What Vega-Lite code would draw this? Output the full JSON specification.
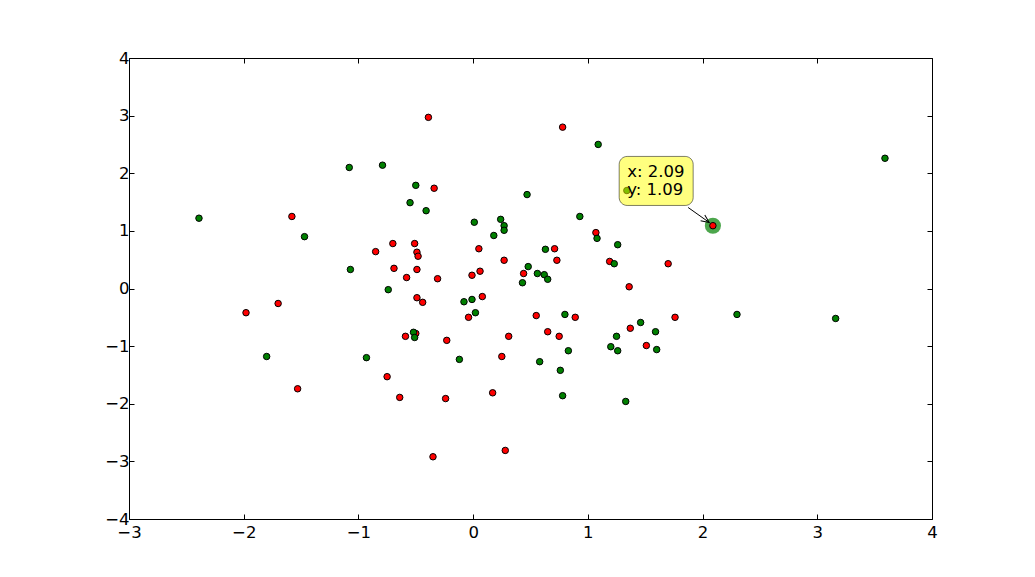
{
  "$schema": "https://vega.github.io/schema/vega-lite/v6.json",
  "width": 803,
  "height": 461,
  "autosize": {"type": "none"},
  "padding": {"left": 129, "top": 58, "right": 103, "bottom": 58},
  "background": "white",
  "config": {
    "view": {"stroke": "black", "strokeWidth": 1},
    "axis": {
      "domain": false,
      "grid": false,
      "tickColor": "black",
      "tickSize": -5,
      "tickWidth": 1,
      "labelFlush": false,
      "labelOverlap": false,
      "labelFont": "DejaVu Sans",
      "labelFontSize": 16.5,
      "labelColor": "black"
    }
  },
  "datasets": {
    "points": [
      {"x": -1.98, "y": -0.42, "c": "red"},
      {"x": -1.70, "y": -0.26, "c": "red"},
      {"x": -1.58, "y": 1.25, "c": "red"},
      {"x": -1.53, "y": -1.74, "c": "red"},
      {"x": -0.39, "y": 2.97, "c": "red"},
      {"x": -0.34, "y": 1.74, "c": "red"},
      {"x": -0.85, "y": 0.64, "c": "red"},
      {"x": -0.70, "y": 0.78, "c": "red"},
      {"x": -0.51, "y": 0.78, "c": "red"},
      {"x": -0.49, "y": 0.63, "c": "red"},
      {"x": -0.48, "y": 0.56, "c": "red"},
      {"x": -0.69, "y": 0.35, "c": "red"},
      {"x": -0.49, "y": 0.33, "c": "red"},
      {"x": -0.58, "y": 0.19, "c": "red"},
      {"x": -0.31, "y": 0.17, "c": "red"},
      {"x": 0.05, "y": 0.69, "c": "red"},
      {"x": 0.06, "y": 0.30, "c": "red"},
      {"x": -0.01, "y": 0.23, "c": "red"},
      {"x": 0.27, "y": 0.49, "c": "red"},
      {"x": -0.49, "y": -0.16, "c": "red"},
      {"x": -0.44, "y": -0.24, "c": "red"},
      {"x": 0.08, "y": -0.14, "c": "red"},
      {"x": -0.04, "y": -0.50, "c": "red"},
      {"x": -0.59, "y": -0.83, "c": "red"},
      {"x": -0.50, "y": -0.78, "c": "red"},
      {"x": -0.23, "y": -0.90, "c": "red"},
      {"x": 0.31, "y": -0.83, "c": "red"},
      {"x": -0.75, "y": -1.53, "c": "red"},
      {"x": -0.64, "y": -1.89, "c": "red"},
      {"x": -0.24, "y": -1.91, "c": "red"},
      {"x": 0.25, "y": -1.18, "c": "red"},
      {"x": 0.17, "y": -1.81, "c": "red"},
      {"x": -0.35, "y": -2.92, "c": "red"},
      {"x": 0.28, "y": -2.81, "c": "red"},
      {"x": 0.78, "y": 2.80, "c": "red"},
      {"x": 0.71, "y": 0.69, "c": "red"},
      {"x": 0.73, "y": 0.49, "c": "red"},
      {"x": 1.07, "y": 0.97, "c": "red"},
      {"x": 1.19, "y": 0.47, "c": "red"},
      {"x": 1.70, "y": 0.43, "c": "red"},
      {"x": 1.36, "y": 0.03, "c": "red"},
      {"x": 0.44, "y": 0.26, "c": "red"},
      {"x": 0.55, "y": -0.47, "c": "red"},
      {"x": 0.65, "y": -0.75, "c": "red"},
      {"x": 0.75, "y": -0.83, "c": "red"},
      {"x": 0.89, "y": -0.50, "c": "red"},
      {"x": 1.37, "y": -0.69, "c": "red"},
      {"x": 1.51, "y": -0.99, "c": "red"},
      {"x": 1.76, "y": -0.50, "c": "red"},
      {"x": 2.09, "y": 1.09, "c": "red"},
      {"x": -2.39, "y": 1.22, "c": "green"},
      {"x": -1.08, "y": 2.10, "c": "green"},
      {"x": -0.79, "y": 2.14, "c": "green"},
      {"x": -1.47, "y": 0.90, "c": "green"},
      {"x": -1.07, "y": 0.33, "c": "green"},
      {"x": -0.74, "y": -0.02, "c": "green"},
      {"x": -1.80, "y": -1.18, "c": "green"},
      {"x": -0.93, "y": -1.20, "c": "green"},
      {"x": -0.50, "y": 1.79, "c": "green"},
      {"x": -0.55, "y": 1.49, "c": "green"},
      {"x": -0.41, "y": 1.35, "c": "green"},
      {"x": 0.01, "y": 1.15, "c": "green"},
      {"x": 0.24, "y": 1.20, "c": "green"},
      {"x": 0.27, "y": 1.09, "c": "green"},
      {"x": 0.27, "y": 1.01, "c": "green"},
      {"x": 0.18, "y": 0.92, "c": "green"},
      {"x": 0.47, "y": 1.63, "c": "green"},
      {"x": 1.09, "y": 2.50, "c": "green"},
      {"x": 0.93, "y": 1.25, "c": "green"},
      {"x": 1.08, "y": 0.87, "c": "green"},
      {"x": 1.26, "y": 0.76, "c": "green"},
      {"x": 1.23, "y": 0.43, "c": "green"},
      {"x": 0.48, "y": 0.38, "c": "green"},
      {"x": 0.56, "y": 0.26, "c": "green"},
      {"x": 0.62, "y": 0.24, "c": "green"},
      {"x": 0.65, "y": 0.16, "c": "green"},
      {"x": 0.43, "y": 0.10, "c": "green"},
      {"x": 0.63, "y": 0.68, "c": "green"},
      {"x": -0.08, "y": -0.23, "c": "green"},
      {"x": -0.01, "y": -0.19, "c": "green"},
      {"x": 0.02, "y": -0.42, "c": "green"},
      {"x": -0.52, "y": -0.76, "c": "green"},
      {"x": -0.51, "y": -0.85, "c": "green"},
      {"x": -0.12, "y": -1.23, "c": "green"},
      {"x": 0.80, "y": -0.45, "c": "green"},
      {"x": 0.83, "y": -1.08, "c": "green"},
      {"x": 0.58, "y": -1.27, "c": "green"},
      {"x": 0.76, "y": -1.42, "c": "green"},
      {"x": 0.78, "y": -1.86, "c": "green"},
      {"x": 1.46, "y": -0.59, "c": "green"},
      {"x": 1.25, "y": -0.83, "c": "green"},
      {"x": 1.20, "y": -1.01, "c": "green"},
      {"x": 1.26, "y": -1.08, "c": "green"},
      {"x": 1.59, "y": -0.75, "c": "green"},
      {"x": 1.60, "y": -1.06, "c": "green"},
      {"x": 1.33, "y": -1.96, "c": "green"},
      {"x": 2.30, "y": -0.45, "c": "green"},
      {"x": 3.16, "y": -0.52, "c": "green"},
      {"x": 3.59, "y": 2.26, "c": "green"},
      {"x": 1.34, "y": 1.70, "c": "green"}
    ],
    "selected": [{"x": 2.09, "y": 1.09}],
    "box": [{"x": 1.273, "x2": 1.918, "y": 2.292, "y2": 1.441}],
    "labels": [
      {"x": 1.343, "y": 1.927, "t": "x: 2.09"},
      {"x": 1.343, "y": 1.615, "t": "y: 1.09"}
    ],
    "arrow": [{"x": 1.874, "y": 1.406, "x2": 2.058, "y2": 1.146}]
  },
  "layer": [
    {
      "data": {"name": "selected"},
      "mark": {"type": "point", "shape": "circle", "filled": true, "size": 260, "color": "#008000", "opacity": 0.7, "strokeWidth": 0},
      "encoding": {
        "x": {"field": "x", "type": "quantitative", "scale": {"domain": [-3, 4], "nice": false, "zero": false}, "axis": {"orient": "bottom", "values": [-3, -2, -1, 0, 1, 2, 3, 4], "format": "d", "title": null, "labelPadding": 10}},
        "y": {"field": "y", "type": "quantitative", "scale": {"domain": [-4, 4], "nice": false, "zero": false}, "axis": {"orient": "left", "values": [-4, -3, -2, -1, 0, 1, 2, 3, 4], "format": "d", "title": null, "labelPadding": 5}}
      }
    },
    {
      "data": {"name": "points"},
      "mark": {"type": "point", "shape": "circle", "filled": true, "size": 42, "stroke": "black", "strokeWidth": 1, "opacity": 1},
      "encoding": {
        "x": {"field": "x", "type": "quantitative", "scale": {"domain": [-3, 4], "nice": false, "zero": false}, "axis": null},
        "y": {"field": "y", "type": "quantitative", "scale": {"domain": [-4, 4], "nice": false, "zero": false}, "axis": null},
        "fill": {"field": "c", "type": "nominal", "scale": {"domain": ["green", "red"], "range": ["#008000", "#ff0000"]}, "legend": null}
      }
    },
    {
      "data": {"name": "box"},
      "mark": {"type": "rect", "fill": "#ffff00", "fillOpacity": 0.5, "stroke": "black", "strokeOpacity": 0.5, "strokeWidth": 1, "cornerRadius": 8},
      "encoding": {
        "x": {"field": "x", "type": "quantitative", "scale": {"domain": [-3, 4], "nice": false, "zero": false}, "axis": {"orient": "top", "values": [-3, -2, -1, 0, 1, 2, 3, 4], "labels": false, "title": null}},
        "x2": {"field": "x2"},
        "y": {"field": "y", "type": "quantitative", "scale": {"domain": [-4, 4], "nice": false, "zero": false}, "axis": {"orient": "right", "values": [-4, -3, -2, -1, 0, 1, 2, 3, 4], "labels": false, "title": null}},
        "y2": {"field": "y2"}
      }
    },
    {
      "data": {"name": "labels"},
      "mark": {"type": "text", "align": "left", "baseline": "alphabetic", "font": "DejaVu Sans", "fontSize": 16.5, "color": "black"},
      "encoding": {
        "x": {"field": "x", "type": "quantitative", "scale": {"domain": [-3, 4], "nice": false, "zero": false}, "axis": null},
        "y": {"field": "y", "type": "quantitative", "scale": {"domain": [-4, 4], "nice": false, "zero": false}, "axis": null},
        "text": {"field": "t", "type": "nominal"}
      }
    },
    {
      "data": {"name": "arrow"},
      "mark": {"type": "rule", "color": "black", "strokeWidth": 1},
      "encoding": {
        "x": {"field": "x", "type": "quantitative", "scale": {"domain": [-3, 4], "nice": false, "zero": false}, "axis": null},
        "y": {"field": "y", "type": "quantitative", "scale": {"domain": [-4, 4], "nice": false, "zero": false}, "axis": null},
        "x2": {"field": "x2"},
        "y2": {"field": "y2"}
      }
    },
    {
      "data": {"name": "arrow"},
      "mark": {"type": "point", "shape": "M-1,-0.45L0,0L-1,0.45", "filled": false, "size": 256, "stroke": "black", "strokeWidth": 1, "angle": 35.5, "opacity": 1},
      "encoding": {
        "x": {"field": "x2", "type": "quantitative", "scale": {"domain": [-3, 4], "nice": false, "zero": false}, "axis": null},
        "y": {"field": "y2", "type": "quantitative", "scale": {"domain": [-4, 4], "nice": false, "zero": false}, "axis": null}
      }
    }
  ],
  "resolve": {"axis": {"x": "independent", "y": "independent"}}
}
